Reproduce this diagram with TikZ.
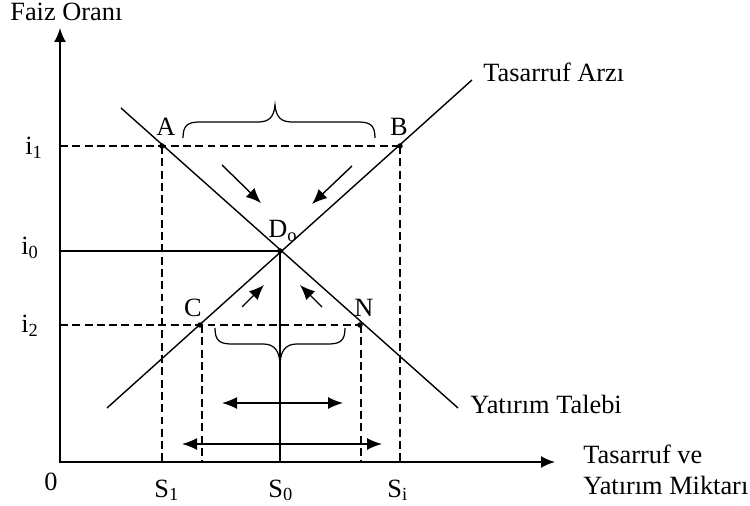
\documentclass[tikz,border=0pt]{standalone}
\usepackage{fontspec}
\setmainfont{Liberation Serif}
\usetikzlibrary{arrows.meta}
\begin{document}
\begin{tikzpicture}[x=0.02cm,y=-0.02cm,
  lbl/.style={inner sep=0pt,font=\fontsize{15}{18}\selectfont},
  dot/.style={circle,fill=black,inner sep=0pt,minimum size=0.11cm},
  curve/.style={line width=0.8pt},
  guide/.style={line width=0.8pt,dash pattern=on 4.5pt off 2.5pt},
  axis/.style={line width=1.1pt,{Latex[length=0.28cm,width=0.24cm]}-{Latex[length=0.28cm,width=0.24cm]}},
  tip/.style={line width=0.8pt,-{Latex[length=0.3cm,width=0.25cm]}},
  both/.style={line width=0.8pt,{Latex[length=0.3cm,width=0.24cm]}-{Latex[length=0.3cm,width=0.24cm]}},
  brace/.style={line width=0.7pt}
]
\path[use as bounding box] (0,0) rectangle (750,506);

% axes
\coordinate (O) at (60,462);
\coordinate (Ytop) at (60,28);
\coordinate (Xend) at (555,462);
\draw[axis] (Ytop) -- (O) -- (Xend);

% curves
\coordinate (sS) at (107,408);
\coordinate (sE) at (472,80);
\coordinate (dS) at (121,108);
\coordinate (dE) at (458,408);
\draw[curve] (sS) -- (sE);
\draw[curve] (dS) -- (dE);

% points
\node[dot] (A) at (162,146) {};
\node[dot] (B) at (400,146) {};
\node[dot] (C) at (200,325) {};
\node[dot] (N) at (360,325) {};
\node[dot] (D) at (280,251) {};

% axis feet
\coordinate (i1a) at (60,146);
\coordinate (i0a) at (60,251);
\coordinate (i2a) at (60,325);
\coordinate (S1f) at (162,462);
\coordinate (Sif) at (400,462);
\coordinate (Cf) at (202,462);
\coordinate (Nf) at (361,462);
\coordinate (S0f) at (280,462);

% guides
\draw[guide] (i1a) -- (B.center);
\draw[guide] (i2a) -- (N.center);
\draw[guide] (A.center) -- (S1f);
\draw[guide] (B.center) -- (Sif);
\draw[guide] (202,325) -- (Cf);
\draw[guide] (361,325) -- (Nf);
\draw[curve] (i0a) -- (D.center) -- (S0f);

% small arrows
\coordinate (ul1) at (222,165); \coordinate (ul2) at (261,203);
\coordinate (ur1) at (352,166); \coordinate (ur2) at (312,204);
\coordinate (ll1) at (242,307); \coordinate (ll2) at (264,285);
\coordinate (lr1) at (322,307); \coordinate (lr2) at (300,285);
\draw[tip] (ul1) -- (ul2);
\draw[tip] (ur1) -- (ur2);
\draw[tip] (ll1) -- (ll2);
\draw[tip] (lr1) -- (lr2);

% double arrows
\coordinate (h1a) at (222,403); \coordinate (h1b) at (343,403);
\coordinate (h2a) at (182,444); \coordinate (h2b) at (382,444);
\draw[both] (h1a) -- (h1b);
\draw[both] (h2a) -- (h2b);

% braces
\draw[brace] (183,138) .. controls (183,125) and (188,122) .. (200,122) -- (258,122)
  .. controls (268,122) and (274,118) .. (275,105)
  .. controls (276,118) and (282,122) .. (292,122) -- (358,122)
  .. controls (370,122) and (375,125) .. (375,138);
\draw[brace] (215,328) .. controls (215,341) and (220,344) .. (232,344) -- (263,344)
  .. controls (273,344) and (279,349) .. (280,363)
  .. controls (281,349) and (287,344) .. (297,344) -- (328,344)
  .. controls (340,344) and (345,341) .. (345,328);

% labels
\node[lbl,anchor=base west] (yl) at (10,21) {Faiz Oranı};
\node[lbl,anchor=base west] (sl) at (483,82) {Tasarruf Arzı};
\node[lbl,anchor=base west] (dl) at (470,413) {Yatırım Talebi};
\node[lbl,anchor=base west] (xl1) at (583,463) {Tasarruf ve};
\node[lbl,anchor=base west] (xl2) at (583,494) {Yatırım Miktarı};
\node[lbl,anchor=base] (zero) at (51,490) {0};
\node[lbl,anchor=base west] (s1) at (154,497) {S\textsubscript{1}};
\node[lbl,anchor=base west] (s0) at (268,497) {S\textsubscript{0}};
\node[lbl,anchor=base west] (si) at (387,497) {S\textsubscript{i}};
\node[lbl,anchor=base west] (i1) at (25,155) {i\textsubscript{1}};
\node[lbl,anchor=base west] (i0) at (21,255) {i\textsubscript{0}};
\node[lbl,anchor=base west] (i2) at (21,333) {i\textsubscript{2}};
\node[lbl] (la) at (166,127) {A};
\node[lbl] (lb) at (399,127) {B};
\node[lbl] (lc) at (193,308) {C};
\node[lbl] (ln) at (364,308) {N};
\node[lbl,anchor=base west] (ld) at (268,238) {D\textsubscript{o}};
\end{tikzpicture}
\end{document}
